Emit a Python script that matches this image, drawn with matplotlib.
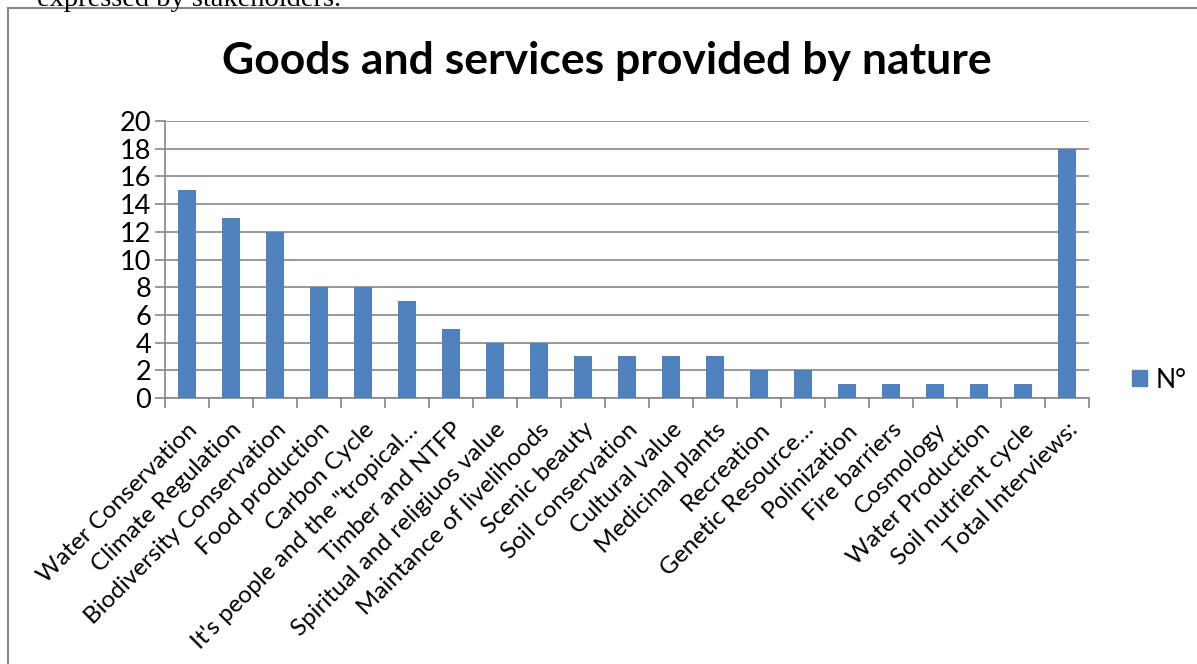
import matplotlib
matplotlib.use("Agg")
import matplotlib.pyplot as plt
from matplotlib.patches import Rectangle
from matplotlib.transforms import ScaledTranslation

categories = ["Water Conservation", "Climate Regulation", "Biodiversity Conservation",
              "Food production", "Carbon Cycle", "It's people and the \"tropical\u2026",
              "Timber and NTFP", "Spiritual and religiuos value", "Maintance of livelihoods",
              "Scenic beauty", "Soil conservation", "Cultural value", "Medicinal plants",
              "Recreation", "Genetic Resource\u2026", "Polinization", "Fire barriers",
              "Cosmology", "Water Production", "Soil nutrient cycle", "Total Interviews:"]
values = [15, 13, 12, 8, 8, 7, 5, 4, 4, 3, 3, 3, 3, 2, 2, 1, 1, 1, 1, 1, 18]
yticks = list(range(0, 21, 2))
series_name = "N\u00b0"
title = "Goods and services provided by nature"
top_text = "expressed by stakeholders."

W, H = 1197, 664
fig = plt.figure(figsize=(W / 100, H / 100), dpi=100)
fig.patch.set_facecolor("white")

FONT = ["Lato", "DejaVu Sans"]
GRAY = "#868686"
BAR = "#4F81BD"

# outer chart border
fig.patches.append(Rectangle((8 / W, -0.05), 1.1, 1 - 8 / H + 0.05, transform=fig.transFigure,
                             fill=False, edgecolor=GRAY, linewidth=1.5, zorder=0))
# cropped document text above the chart
fig.text(37 / W, 1 - 6 / H, top_text, family="Liberation Serif", fontsize=20.5,
         ha="left", va="baseline", color="black")

ax = fig.add_axes([165 / W, 1 - 398 / H, (1089 - 165) / W, (398 - 121) / H])
x = list(range(len(categories)))
ax.bar(x, values, width=0.4, color=BAR, zorder=3)

ax.set_xlim(-0.5, len(categories) - 0.5)
ax.set_ylim(0, 20)
ax.set_yticks(yticks)
ax.set_yticklabels([str(v) for v in yticks], family=FONT, fontsize=19.5)
ax.yaxis.grid(True, color=GRAY, linewidth=1.2, zorder=0)
ax.set_axisbelow(True)

ax.set_xticks(x)
ax.set_xticklabels(categories, rotation=45, ha="right", rotation_mode="anchor",
                   family=FONT, fontsize=17.5)
shift = ScaledTranslation(-5 / 100, 0, fig.dpi_scale_trans)
for lab in ax.get_xticklabels():
    lab.set_transform(lab.get_transform() + shift)
ax.set_xticks([i - 0.5 for i in range(len(categories) + 1)], minor=True)
ax.tick_params(axis="x", which="major", length=0, pad=15)
ax.tick_params(axis="x", which="minor", length=7, color=GRAY, width=1.2)
ax.tick_params(axis="y", length=7, color=GRAY, width=1.2, pad=3)

for s in ["top", "right"]:
    ax.spines[s].set_visible(False)
for s in ["left", "bottom"]:
    ax.spines[s].set_color(GRAY)
    ax.spines[s].set_linewidth(1.2)

fig.text(607 / W, 1 - 61 / H, title, family=FONT, fontsize=32, fontweight="bold",
         ha="center", va="center")

handle = Rectangle((0, 0), 1, 1, color=BAR)
fig.legend([handle], [series_name], loc="center left",
           bbox_to_anchor=(1132 / W, 1 - 380 / H), frameon=False, borderpad=0,
           borderaxespad=0, handlelength=0.58, handleheight=0.58, handletextpad=0.3,
           prop={"family": FONT, "size": 19})

fig.savefig("out.png", dpi=100)
